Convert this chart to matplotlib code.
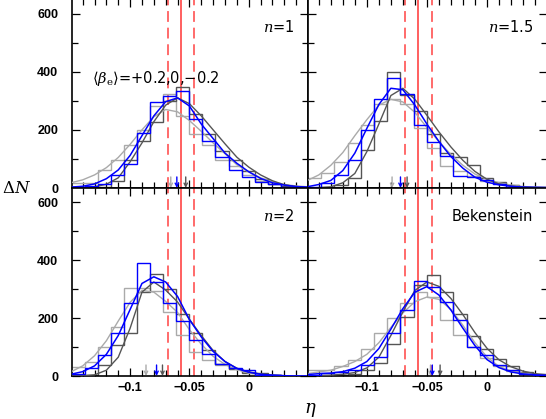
import numpy as np
import matplotlib
matplotlib.use("Agg")
import matplotlib.pyplot as plt
from matplotlib.ticker import MultipleLocator, FixedLocator

plt.rcParams['font.family'] = ['DejaVu Sans']
plt.rcParams['mathtext.fontset'] = 'dejavuserif'

# ---------------- data ----------------
bin_edges = [-0.149, -0.138, -0.127, -0.116, -0.105, -0.094, -0.083, -0.072, -0.061,
             -0.050, -0.039, -0.028, -0.017, -0.006, 0.005, 0.016, 0.027, 0.038, 0.049]
curve_x = [-0.15, -0.14, -0.13, -0.12, -0.11, -0.10, -0.09, -0.08, -0.07, -0.06, -0.05,
           -0.04, -0.03, -0.02, -0.01, 0.00, 0.01, 0.02, 0.03, 0.04, 0.05]

panel_labels = ["$n$=1", "$n$=1.5", "$n$=2", "Bekenstein"]

# histograms (light gray: <beta>=+0.2, blue: 0, dark gray: -0.2)
n1_hist_light = [18, 18, 62, 97, 149, 200, 282, 322, 247, 184, 149, 97, 74, 45, 25, 14, 8, 5]
n1_hist_dark = [0, 2, 5, 25, 97, 163, 227, 300, 346, 255, 184, 126, 97, 57, 30, 14, 8, 5]
n1_hist_blue = [3, 7, 14, 45, 83, 190, 296, 315, 334, 236, 161, 105, 62, 39, 22, 14, 5, 3]
n1_curve_light = [18, 28, 45, 70, 105, 150, 200, 245, 270, 262, 232, 195, 155, 118, 80, 55, 35, 22, 12, 7, 4]
n1_curve_dark = [0, 1, 4, 13, 35, 90, 155, 228, 285, 310, 290, 248, 200, 152, 106, 72, 45, 25, 11, 5, 2]
n1_curve_blue = [3, 6, 14, 32, 62, 112, 180, 248, 297, 310, 282, 220, 170, 120, 85, 56, 33, 18, 10, 5, 3]

n15_hist_light = [35, 51, 91, 155, 218, 290, 305, 290, 207, 137, 74, 60, 40, 25, 16, 9, 4, 2]
n15_hist_dark = [1, 3, 12, 35, 132, 230, 398, 320, 265, 187, 120, 105, 80, 35, 22, 12, 4, 2]
n15_hist_blue = [5, 18, 45, 97, 200, 305, 380, 322, 218, 157, 109, 42, 37, 29, 14, 5, 3, 2]
n15_curve_light = [25, 45, 78, 122, 180, 235, 285, 305, 296, 260, 208, 160, 115, 78, 48, 30, 18, 10, 5, 3, 1]
n15_curve_dark = [0, 1, 4, 18, 50, 125, 220, 318, 343, 305, 250, 193, 141, 95, 57, 30, 14, 7, 3, 1, 0]
n15_curve_blue = [4, 12, 26, 60, 120, 205, 287, 343, 338, 285, 220, 160, 108, 68, 37, 20, 11, 6, 3, 2, 1]

n2_hist_light = [31, 49, 100, 170, 305, 305, 295, 222, 141, 83, 54, 37, 25, 14, 6, 3, 1, 0]
n2_hist_dark = [1, 4, 37, 106, 150, 290, 353, 300, 214, 147, 89, 42, 25, 9, 9, 3, 1, 0]
n2_hist_blue = [8, 26, 72, 147, 251, 392, 326, 251, 191, 124, 75, 42, 28, 22, 3, 2, 1, 0]
n2_curve_light = [14, 35, 70, 122, 190, 255, 296, 290, 258, 220, 160, 110, 68, 40, 22, 10, 5, 2, 1, 0, 0]
n2_curve_dark = [0, 1, 4, 20, 65, 165, 290, 325, 297, 256, 196, 140, 88, 50, 27, 14, 7, 3, 1, 0, 0]
n2_curve_blue = [6, 15, 35, 75, 140, 230, 320, 343, 325, 275, 195, 135, 85, 50, 26, 13, 6, 3, 1, 0, 0]

bek_hist_light = [20, 22, 35, 55, 95, 150, 200, 251, 290, 274, 193, 141, 101, 63, 35, 18, 8, 4]
bek_hist_dark = [0, 1, 3, 6, 20, 45, 110, 205, 315, 349, 291, 215, 138, 95, 58, 35, 15, 6]
bek_hist_blue = [3, 10, 14, 20, 37, 66, 147, 228, 330, 307, 257, 193, 101, 72, 37, 22, 8, 5]
bek_curve_light = [8, 14, 20, 33, 50, 75, 115, 168, 218, 257, 273, 265, 230, 175, 115, 66, 33, 17, 9, 5, 3]
bek_curve_dark = [0, 1, 3, 6, 12, 28, 65, 140, 222, 296, 325, 310, 268, 212, 150, 96, 56, 32, 17, 8, 4]
bek_curve_blue = [5, 8, 10, 15, 27, 50, 95, 162, 233, 290, 309, 280, 228, 165, 105, 57, 29, 14, 7, 4, 2]

# mean markers (arrows): light, blue, dark
n1_arrows = [-0.0657, -0.0606, -0.0531]
n15_arrows = [-0.079, -0.072, -0.0665]
n2_arrows = [-0.0866, -0.0777, -0.0727]
bek_arrows = [-0.047, -0.0455, -0.039]

# observed value (solid) and its range (dashed)
obs_value = -0.057
obs_range = [-0.068, -0.046]

panels = [
    (n1_hist_light, n1_hist_dark, n1_hist_blue, n1_curve_light, n1_curve_dark, n1_curve_blue, n1_arrows),
    (n15_hist_light, n15_hist_dark, n15_hist_blue, n15_curve_light, n15_curve_dark, n15_curve_blue, n15_arrows),
    (n2_hist_light, n2_hist_dark, n2_hist_blue, n2_curve_light, n2_curve_dark, n2_curve_blue, n2_arrows),
    (bek_hist_light, bek_hist_dark, bek_hist_blue, bek_curve_light, bek_curve_dark, bek_curve_blue, bek_arrows),
]

# ---------------- style ----------------
C_LIGHT = '#aaaaaa'
C_DARK = '#555555'
C_BLUE = '#0000ff'
C_RED = '#ff5f5f'
TICKFONT = dict(family='Liberation Sans', weight='bold', size=9)

W, H = 546, 419
fig = plt.figure(figsize=(W / 100, H / 100), dpi=100)

xl, xm, xr = 72, 308, 547
yt, ym, yb = -1, 188, 376
rects = [
    (xl, yt, xm, ym), (xm, yt, xr, ym),
    (xl, ym, xm, yb), (xm, ym, xr, yb),
]

axes = []
for i, (x0, y0, x1, y1) in enumerate(rects):
    ax = fig.add_axes([x0 / W, 1 - y1 / H, (x1 - x0) / W, (y1 - y0) / H])
    axes.append(ax)
    hl, hd, hb, cl, cd, cb, arr = panels[i]

    for v in obs_range:
        ax.axvline(v, color=C_RED, lw=1.3, dashes=(6, 3.2), zorder=1)
    ax.axvline(obs_value, color=C_RED, lw=1.4, zorder=1)

    ax.stairs(hl, bin_edges, baseline=None, color=C_LIGHT, lw=1.0, zorder=2)
    ax.stairs(hd, bin_edges, baseline=None, color=C_DARK, lw=1.0, zorder=2)
    ax.plot(curve_x, cl, color=C_LIGHT, lw=1.0, zorder=3)
    ax.plot(curve_x, cd, color=C_DARK, lw=1.0, zorder=3)
    ax.stairs(hb, bin_edges, baseline=None, color=C_BLUE, lw=1.0, zorder=4)
    ax.plot(curve_x, cb, color=C_BLUE, lw=1.1, zorder=5)

    for xa, col in zip(arr, [C_LIGHT, C_BLUE, C_DARK]):
        ax.annotate('', xy=(xa, 0), xytext=(xa, 38),
                    arrowprops=dict(arrowstyle='->', color=col, lw=1.0,
                                    shrinkA=0, shrinkB=0, mutation_scale=6),
                    zorder=6)

    ax.set_xlim(-0.149, 0.05)
    ax.set_ylim(0, 650)
    ax.xaxis.set_major_locator(FixedLocator([-0.1, -0.05, 0.0]))
    ax.xaxis.set_minor_locator(MultipleLocator(0.01))
    ax.yaxis.set_major_locator(FixedLocator([0, 200, 400, 600]))
    ax.yaxis.set_minor_locator(MultipleLocator(100))
    ax.tick_params(which='both', direction='in', top=True, right=True, width=0.9,
                   colors='black')
    ax.tick_params(which='major', length=6)
    ax.tick_params(which='minor', length=4)
    ax.tick_params(axis='y', pad=10)
    for s in ax.spines.values():
        s.set_linewidth(1.2)

    if i in (0, 2):
        ax.set_yticklabels(['0', '200', '400', '600'], fontdict=TICKFONT)
    else:
        ax.set_yticklabels([])
    if i in (2, 3):
        ax.set_xticklabels(['\u22120.1', '\u22120.05', '0'], fontdict=TICKFONT)
        ax.tick_params(axis='x', pad=4)
    else:
        ax.set_xticklabels([])

    ax.text(0.943, 0.85, panel_labels[i], transform=axes[i].transAxes, ha='right',
            va='center', fontsize=10.5)

axes[0].text(0.085, 0.58, r'$\langle\beta_{\rm e}\rangle$=+0.2,0,$-$0.2',
             transform=axes[0].transAxes, ha='left', va='center', fontsize=10.5)

fig.text(2 / W, 1 - 188 / H, r'$\Delta N$', ha='left', va='center', fontsize=12)
fig.text(310 / W, 1 - 410 / H, r'$\eta$', ha='center', va='center', fontsize=13)

fig.savefig('out.png', dpi=100)
